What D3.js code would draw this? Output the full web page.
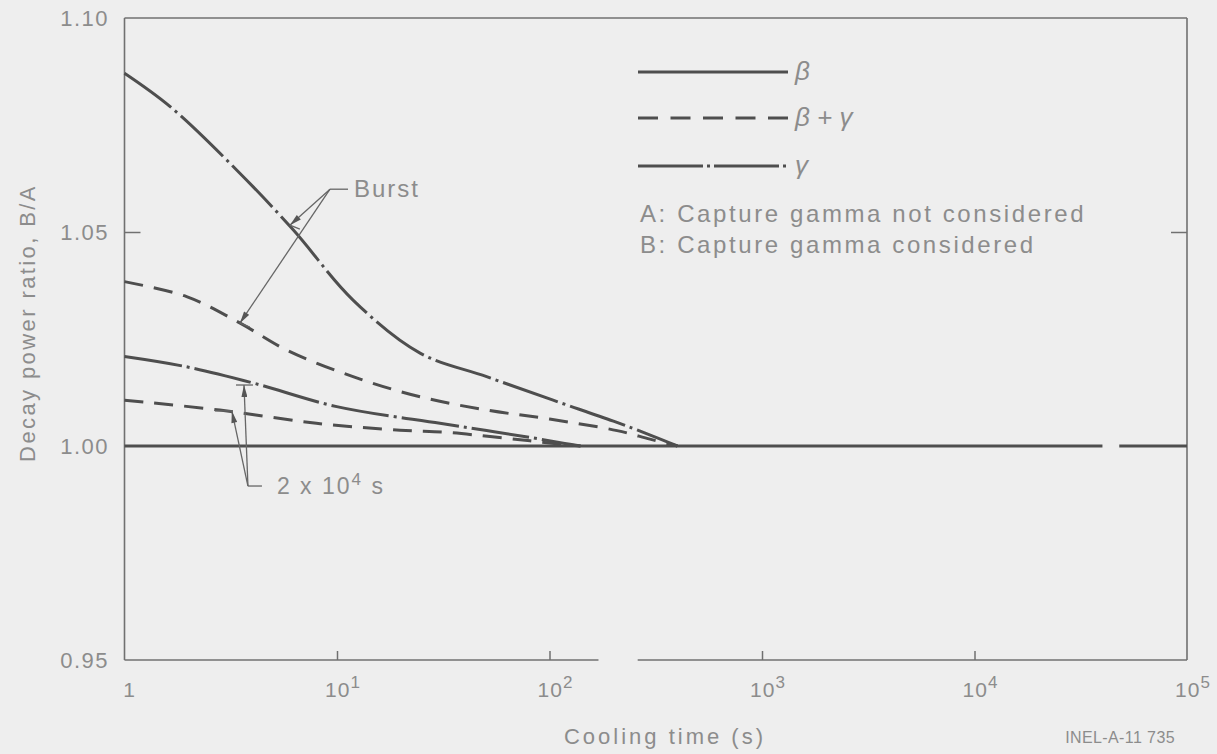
<!DOCTYPE html>
<html>
<head>
<meta charset="utf-8">
<script src="https://cdn.jsdelivr.net/npm/d3@7/dist/d3.min.js"></script>
<style>
  body { margin: 0; background: #eeeeee; }
  svg { display: block; }
  text { font-family: "Liberation Sans", Arial, Helvetica, sans-serif; fill: #8c8c8c; }
</style>
</head>
<body>
<svg id="chart" width="1217" height="754"></svg>
<script>
// ---- data -------------------------------------------------------------
const decadeExponents = [0, 1, 2, 3, 4, 5];
const ratioTicks = [0.95, 1.00, 1.05, 1.10];
const ratioTickLabels = ["0.95", "1.00", "1.05", "1.10"];

// beta: B/A stays at unity over the whole cooling range (short break in the trace)
const betaTime  = [1, 4.0e4, 4.4e4, 4.8e4, 1e5];
const betaRatio = [1.000, 1.000, null, 1.000, 1.000];

// burst irradiation
const burstGammaTime  = [1, 1.64, 3.37, 6.22, 11.9, 24.6, 50.6, 104, 200, 300, 400];
const burstGammaRatio = [1.0871, 1.0793, 1.0645, 1.0505, 1.0341, 1.0217, 1.0162, 1.0107, 1.0058, 1.0025, 1.0000];
const burstTotalTime  = [1, 1.96, 3.5, 5.8, 11.9, 24.6, 50.6, 100, 208, 297, 400];
const burstTotalRatio = [1.0384, 1.0349, 1.0287, 1.0224, 1.0162, 1.0115, 1.0084, 1.0063, 1.0036, 1.0016, 1.0000];

// 2 x 10^4 s irradiation
const longGammaTime  = [1, 1.96, 4.04, 9.97, 30.5, 50.6, 81, 118, 140];
const longGammaRatio = [1.0209, 1.0185, 1.0147, 1.0092, 1.0053, 1.0036, 1.0020, 1.0006, 1.0000];
const longTotalTime  = [1, 2.81, 8.0, 19.8, 32.8, 52.5, 81, 118, 140];
const longTotalRatio = [1.0107, 1.0084, 1.0053, 1.0037, 1.0032, 1.0022, 1.0012, 1.0003, 1.0000];

const legendLabels = ["β", "β + γ", "γ"];
const noteLines = ["A: Capture gamma not considered", "B: Capture gamma considered"];

// ---- layout -----------------------------------------------------------
const svg = d3.select("#chart");
const ink = "#4e4e4e", frameInk = "#707070";
const DASH = "19,11", DASHDOT = "58,5,3,5";

const x = d3.scaleLog().domain([1, 1e5]).range([124.5, 1187]);
const y = d3.scaleLinear().domain([0.95, 1.10]).range([660, 18]);

const zip = (t, v) => t.map((d, i) => ({ t: d, v: v[i] }));
const line = d3.line()
  .defined(d => d.v != null)
  .x(d => x(d.t)).y(d => y(d.v))
  .curve(d3.curveCatmullRom.alpha(0.5));

// ---- frame ------------------------------------------------------------
const frame = svg.append("g").attr("stroke", frameInk).attr("stroke-width", 1.6).attr("fill", "none");
frame.append("line").attr("x1", x(1)).attr("x2", x(1e5)).attr("y1", y(1.10)).attr("y2", y(1.10));
frame.append("line").attr("x1", x(1)).attr("x2", x(1)).attr("y1", y(1.10)).attr("y2", y(0.95));
frame.append("line").attr("x1", x(1e5)).attr("x2", x(1e5)).attr("y1", y(1.10)).attr("y2", y(0.95));
// bottom edge, broken between ~170 s and ~260 s
frame.append("line").attr("x1", x(1)).attr("x2", x(170)).attr("y1", y(0.95)).attr("y2", y(0.95));
frame.append("line").attr("x1", x(260)).attr("x2", x(1e5)).attr("y1", y(0.95)).attr("y2", y(0.95));

// bottom ticks (inward)
const xAxis = svg.append("g")
  .attr("transform", `translate(0,${y(0.95)})`)
  .call(d3.axisBottom(x).tickValues(decadeExponents.slice(1, -1).map(e => 10 ** e))
        .tickSize(-9).tickFormat(""));
xAxis.select(".domain").remove();
xAxis.selectAll(".tick line").attr("stroke", frameInk).attr("stroke-width", 1.5);

// left/right inward ticks at 1.05
const yAxisL = svg.append("g").attr("transform", `translate(${x(1)},0)`)
  .call(d3.axisLeft(y).tickValues([1.05]).tickSize(-16).tickFormat(""));
const yAxisR = svg.append("g").attr("transform", `translate(${x(1e5)},0)`)
  .call(d3.axisRight(y).tickValues([1.05]).tickSize(-16).tickFormat(""));
[yAxisL, yAxisR].forEach(g => {
  g.select(".domain").remove();
  g.selectAll(".tick line").attr("stroke", frameInk).attr("stroke-width", 1.5);
});

// tick labels
svg.append("g").selectAll("text").data(ratioTicks).join("text")
  .attr("x", 109).attr("y", d => y(d) + 8)
  .attr("text-anchor", "end").attr("font-size", 22).attr("letter-spacing", 1.5)
  .text((d, i) => ratioTickLabels[i]);

const xl = svg.append("g").selectAll("text").data(decadeExponents).join("text")
  .attr("x", d => x(10 ** d) + (d === 0 ? 5 : 6)).attr("y", 697)
  .attr("text-anchor", "middle").attr("font-size", 21).attr("letter-spacing", 1);
xl.each(function (d) {
  const t = d3.select(this);
  if (d === 0) { t.text("1"); return; }
  t.append("tspan").text("10");
  t.append("tspan").attr("dy", -9).attr("font-size", 17).text(d);
});

// axis titles
svg.append("text").attr("transform", `translate(35,323) rotate(-90)`)
  .attr("text-anchor", "middle").attr("font-size", 22).attr("letter-spacing", 2.4)
  .text("Decay power ratio, B/A");
svg.append("text").attr("x", 665).attr("y", 744).attr("text-anchor", "middle")
  .attr("font-size", 22).attr("letter-spacing", 3).text("Cooling time (s)");
svg.append("text").attr("x", 1175).attr("y", 743).attr("text-anchor", "end")
  .attr("font-size", 16).attr("letter-spacing", 0.4).text("INEL-A-11 735");

// ---- curves -----------------------------------------------------------
const curves = svg.append("g").attr("fill", "none").attr("stroke", ink)
  .attr("stroke-width", 3).attr("stroke-linecap", "butt");
curves.append("path").attr("d", line(zip(betaTime, betaRatio)));
curves.append("path").attr("d", line(zip(burstGammaTime, burstGammaRatio))).attr("stroke-dasharray", DASHDOT);
curves.append("path").attr("d", line(zip(burstTotalTime, burstTotalRatio))).attr("stroke-dasharray", DASH);
curves.append("path").attr("d", line(zip(longGammaTime, longGammaRatio))).attr("stroke-dasharray", DASHDOT);
curves.append("path").attr("d", line(zip(longTotalTime, longTotalRatio))).attr("stroke-dasharray", DASH);

// ---- legend -----------------------------------------------------------
const legendStyles = [null, "20,12.5", "65,4,3,4"];
const legendY = [72, 118, 166];
const lg = svg.append("g");
legendLabels.forEach((lab, i) => {
  lg.append("line").attr("x1", 638).attr("x2", 788).attr("y1", legendY[i]).attr("y2", legendY[i])
    .attr("stroke", ink).attr("stroke-width", 3)
    .attr("stroke-dasharray", legendStyles[i]);
  lg.append("text").attr("x", 795).attr("y", legendY[i] + 8)
    .attr("font-family", "Liberation Serif, DejaVu Serif, serif").attr("font-style", "italic")
    .attr("font-size", 26).text(lab);
});
noteLines.forEach((s, i) => {
  lg.append("text").attr("x", 640).attr("y", 222 + i * 31)
    .attr("font-size", 24).attr("letter-spacing", 2.6).text(s);
});

// ---- annotations ------------------------------------------------------
const defs = svg.append("defs");
defs.append("marker").attr("id", "head").attr("viewBox", "0 0 12 6")
  .attr("refX", 12).attr("refY", 3).attr("markerWidth", 14).attr("markerHeight", 6)
  .attr("markerUnits", "userSpaceOnUse").attr("orient", "auto")
  .append("path").attr("d", "M0,0 L12,3 L0,6 Z").attr("fill", "#555");

const ann = svg.append("g").attr("stroke", "#666").attr("stroke-width", 1.3).attr("fill", "none");
const P = (t, v) => [x(t), y(v)];

// "Burst" callout
const bOrigin = P(9.27, 1.0600);
const bTargets = [P(6.0, 1.0516), P(3.49, 1.0287)];
ann.append("line").attr("x1", bOrigin[0]).attr("y1", bOrigin[1]).attr("x2", bOrigin[0] + 18).attr("y2", bOrigin[1]);
bTargets.forEach(p => {
  ann.append("line").attr("x1", bOrigin[0]).attr("y1", bOrigin[1]).attr("x2", p[0]).attr("y2", p[1])
    .attr("marker-end", "url(#head)");
  ann.append("line").attr("x1", p[0]).attr("y1", p[1]).attr("x2", p[0] + 10).attr("y2", p[1] + 4);
});
svg.append("text").attr("x", bOrigin[0] + 24).attr("y", bOrigin[1] + 8)
  .attr("font-size", 24).attr("letter-spacing", 2).text("Burst");

// "2 x 10^4 s" callout
const lOrigin = P(3.81, 0.99065);
const lTargets = [P(3.65, 1.01425), P(3.2, 1.0082)];
const barSpan = [[-8, 9], [-17, 1]];
ann.append("line").attr("x1", lOrigin[0]).attr("y1", lOrigin[1]).attr("x2", lOrigin[0] + 14).attr("y2", lOrigin[1]);
lTargets.forEach((p, i) => {
  ann.append("line").attr("x1", lOrigin[0]).attr("y1", lOrigin[1]).attr("x2", p[0]).attr("y2", p[1])
    .attr("marker-end", "url(#head)");
  ann.append("line").attr("x1", p[0] + barSpan[i][0]).attr("y1", p[1]).attr("x2", p[0] + barSpan[i][1]).attr("y2", p[1]);
});
const lt = svg.append("text").attr("x", lOrigin[0] + 29).attr("y", lOrigin[1] + 8)
  .attr("font-size", 23).attr("letter-spacing", 2);
lt.append("tspan").text("2 x 10");
lt.append("tspan").attr("dy", -9).attr("font-size", 17).text("4");
lt.append("tspan").attr("dy", 9).text(" s");
</script>
</body>
</html>
